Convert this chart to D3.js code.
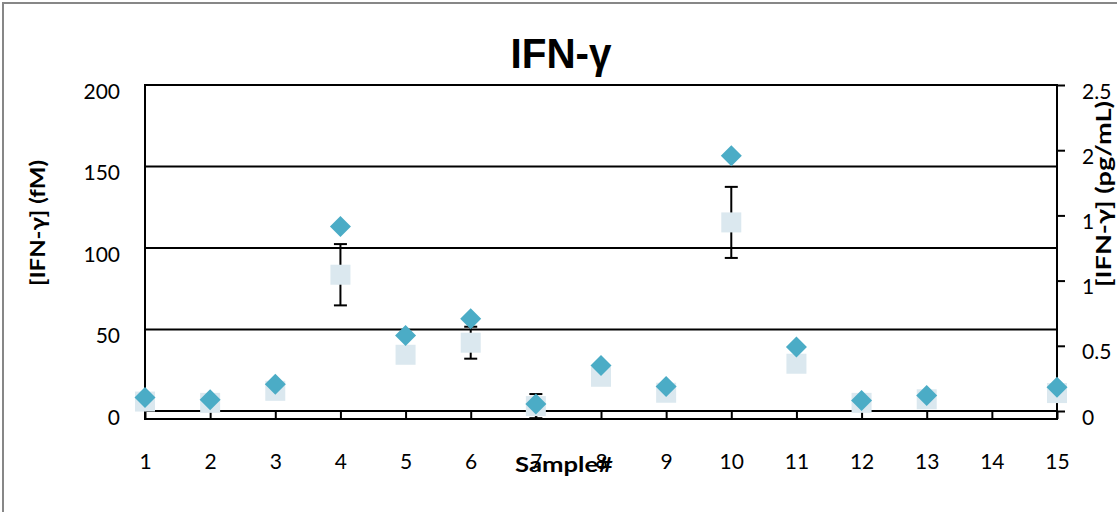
<!DOCTYPE html>
<html>
<head>
<meta charset="utf-8">
<script src="https://cdn.jsdelivr.net/npm/d3@7"></script>
<style>
  html, body { margin: 0; padding: 0; background: #fff; }
  svg { display: block; }
  text { font-family: Lato, "Open Sans", sans-serif; fill: #000; }
</style>
</head>
<body>
<svg id="chart" width="1117" height="512"></svg>
<script>
// Sample numbers along the x axis
const samples = [1, 2, 3, 4, 5, 6, 7, 8, 9, 10, 11, 12, 13, 14, 15];
// Molar concentration (fM, left axis) with its error bar half-widths
const concFM = [5.8, 5.0, 12.4, 83.6, 34.5, 41.9, 3.0, 21.0, 11.2, 115.7, 29.0, 5.0, 7.2, null, 11.0];
const errFM  = [0, 0, 0, 18.8, 0, 9.8, 7.4, 0, 0, 21.8, 0, 0, 0, null, 0];
// Mass concentration (pg/mL, right axis)
const concPG = [0.104, 0.086, 0.206, 1.415, 0.579, 0.707, 0.053, 0.349, 0.188, 1.958, 0.490, 0.081, 0.119, null, 0.183];
// Tick values
const leftTicks = [0, 50, 100, 150, 200];
const rightTicks = [0, 0.5, 1, 1.5, 2, 2.5];

const svg = d3.select("#chart");
const plot = { left: 145, right: 1057, top: 85, zero: 411, axisY: 419 };

const x = d3.scaleLinear().domain([1, 15]).range([plot.left, plot.right]);
const yL = d3.scaleLinear().domain([0, 200]).range([plot.zero, plot.top]);
const yR = d3.scaleLinear().domain([0, 2.5]).range([plot.zero, plot.top]);

// Outer chart frame
svg.append("rect")
  .attr("x", 3).attr("y", 3).attr("width", 1200).attr("height", 600)
  .attr("fill", "none").attr("stroke", "#878787").attr("stroke-width", 2);

// Title
svg.append("text")
  .attr("x", 561).attr("y", 68)
  .attr("text-anchor", "middle")
  .attr("textLength", 101).attr("lengthAdjust", "spacingAndGlyphs")
  .style("font-family", "'Liberation Sans Narrow', 'Liberation Sans', sans-serif")
  .style("font-weight", "bold").style("font-size", "43px")
  .text("IFN-γ");

// Horizontal gridlines from the left scale
svg.append("g").selectAll("line").data(leftTicks).join("line")
  .attr("x1", plot.left).attr("x2", plot.right)
  .attr("y1", d => yL(d)).attr("y2", d => yL(d))
  .attr("stroke", "#000").attr("stroke-width", 2);

// Left axis: labels only, line drawn below
const gL = svg.append("g").attr("transform", `translate(${plot.left},0)`)
  .call(d3.axisLeft(yL).tickValues(leftTicks).tickSize(0).tickPadding(25));
gL.select(".domain").remove();
gL.selectAll("text").style("font-size", "21px").attr("dy", "0.62em")
  .attr("font-family", null);

// Right axis with outward ticks
const gR = svg.append("g").attr("transform", `translate(${plot.right},0)`)
  .call(d3.axisRight(yR).tickValues(rightTicks).tickFormat(d3.format("")).tickSize(8).tickPadding(17));
gR.select(".domain").remove();
gR.selectAll("line").attr("stroke", "#000").attr("stroke-width", 2);
gR.selectAll("text").style("font-size", "21px").attr("dy", "0.62em")
  .attr("font-family", null);

// Vertical axis lines
[plot.left, plot.right].forEach(px => {
  svg.append("line")
    .attr("x1", px).attr("x2", px).attr("y1", plot.top - 1).attr("y2", plot.axisY + 1)
    .attr("stroke", "#000").attr("stroke-width", 2);
});

// Bottom axis with ticks reaching up to the zero line
const gX = svg.append("g").attr("transform", `translate(0,${plot.axisY})`)
  .call(d3.axisBottom(x).tickValues(samples).tickSize(-(plot.axisY - plot.zero)).tickPadding(43));
gX.select(".domain").remove();
gX.selectAll("line").attr("stroke", "#000").attr("stroke-width", 2);
gX.selectAll("text").style("font-size", "21px").attr("font-family", null).attr("dy", "0.35em");
svg.append("line")
  .attr("x1", plot.left).attr("x2", plot.right).attr("y1", plot.axisY).attr("y2", plot.axisY)
  .attr("stroke", "#000").attr("stroke-width", 2);

// Data rows
const rows = samples.map((s, i) => ({ s, fm: concFM[i], err: errFM[i], pg: concPG[i] }))
  .filter(d => d.fm != null);

// Error bars (drawn beneath the square markers)
const eb = svg.append("g").attr("stroke", "#000").attr("stroke-width", 2);
rows.filter(d => d.err > 0).forEach(d => {
  const cx = x(d.s), y1 = yL(d.fm + d.err), y2 = yL(d.fm - d.err);
  eb.append("line").attr("x1", cx).attr("x2", cx).attr("y1", y1).attr("y2", y2);
  eb.append("line").attr("x1", cx - 6.5).attr("x2", cx + 6.5).attr("y1", y1).attr("y2", y1);
  eb.append("line").attr("x1", cx - 6.5).attr("x2", cx + 6.5).attr("y1", y2).attr("y2", y2);
});

// Square markers (fM)
svg.append("g").selectAll("rect").data(rows).join("rect")
  .attr("x", d => x(d.s) - 10).attr("y", d => yL(d.fm) - 10)
  .attr("width", 20).attr("height", 20)
  .attr("fill", "#dbe8ef");

// Diamond markers (pg/mL)
svg.append("g").selectAll("path").data(rows).join("path")
  .attr("transform", d => `translate(${x(d.s)},${yR(d.pg)})`)
  .attr("d", "M0,-10.5L10.5,0L0,10.5L-10.5,0Z")
  .attr("fill", "#4bacc6");

// Axis titles
svg.append("text")
  .attr("transform", "translate(45,223) rotate(-90)")
  .attr("text-anchor", "middle")
  .attr("textLength", 126).attr("lengthAdjust", "spacingAndGlyphs")
  .style("font-weight", "bold").style("font-size", "21px")
  .text("[IFN-γ] (fM)");

svg.append("rect")
  .attr("x", 1094).attr("y", 99).attr("width", 23).attr("height", 192)
  .attr("fill", "#fff");
svg.append("text")
  .attr("transform", "translate(1111,194) rotate(-90)")
  .attr("text-anchor", "middle")
  .attr("textLength", 186).attr("lengthAdjust", "spacingAndGlyphs")
  .style("font-weight", "bold").style("font-size", "20px")
  .text("[IFN-γ] (pg/mL)");

svg.append("text")
  .attr("x", 564).attr("y", 472)
  .attr("text-anchor", "middle")
  .attr("textLength", 98).attr("lengthAdjust", "spacingAndGlyphs")
  .style("font-weight", "bold").style("font-size", "21px")
  .text("Sample#");
</script>
</body>
</html>
